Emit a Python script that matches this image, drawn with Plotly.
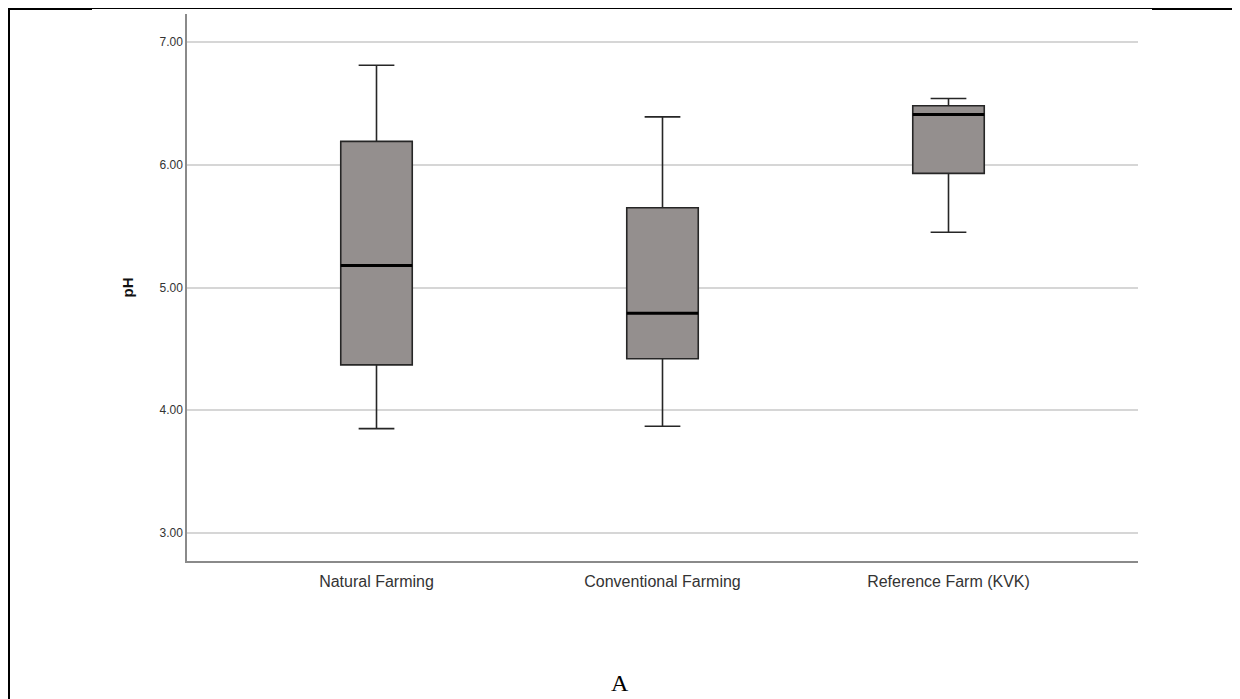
import plotly.graph_objects as go

categories = ["Natural Farming", "Conventional Farming", "Reference Farm (KVK)"]
lower_whisker = [3.85, 3.87, 5.45]
q1_values = [4.37, 4.42, 5.93]
median_values = [5.18, 4.79, 6.41]
q3_values = [6.19, 5.65, 6.48]
upper_whisker = [6.81, 6.39, 6.54]
y_ticks = [3.0, 4.0, 5.0, 6.0, 7.0]

FILL = "#948f8e"

# page body has an 8px margin, so figure coordinates = page - 8
W, H = 1232, 691
L, R, T, B = 179, 102, 6, 138
PW, PH = W - L - R, H - T - B

fig = go.Figure()
fig.add_trace(go.Box(
    x=categories, q1=q1_values, median=median_values, q3=q3_values,
    lowerfence=lower_whisker, upperfence=upper_whisker,
    fillcolor=FILL, line=dict(color="#262626", width=1.6),
    width=0.25, whiskerwidth=0.5, boxpoints=False, showlegend=False,
    hoverinfo="skip",
))
# thick median line
fig.add_trace(go.Box(
    x=categories, q1=median_values, median=median_values, q3=median_values,
    lowerfence=median_values, upperfence=median_values,
    fillcolor="rgba(0,0,0,0)", line=dict(color="#000000", width=3),
    width=0.25, whiskerwidth=0, boxpoints=False, showlegend=False,
    hoverinfo="skip",
))

def px_x(p):
    return (p - 8 - L) / PW

def px_y(p):
    return (T + PH - (p - 8)) / PH

shapes = [
    dict(type="line", xref="paper", yref="paper", x0=px_x(9), x1=px_x(9), y0=px_y(9), y1=px_y(720), line=dict(color="black", width=2)),
    dict(type="line", xref="paper", yref="paper", x0=px_x(1238), x1=px_x(1238), y0=px_y(9), y1=px_y(720), line=dict(color="black", width=2)),
    dict(type="line", xref="paper", yref="paper", x0=px_x(8), x1=px_x(92), y0=px_y(9), y1=px_y(9), line=dict(color="black", width=2)),
    dict(type="line", xref="paper", yref="paper", x0=px_x(1152), x1=px_x(1239), y0=px_y(9), y1=px_y(9), line=dict(color="black", width=2)),
    dict(type="line", xref="paper", yref="paper", x0=px_x(92), x1=px_x(1152), y0=px_y(8.5), y1=px_y(8.5), line=dict(color="black", width=1)),
]

fig.update_layout(
    width=W, height=H,
    margin=dict(l=L, r=R, t=T, b=B),
    paper_bgcolor="white", plot_bgcolor="white",
    font=dict(family="Liberation Sans, Arial, sans-serif", color="#222"),
    showlegend=False,
    shapes=shapes,
    xaxis=dict(
        range=[-0.6626, 2.6626], showgrid=False, zeroline=False,
        showline=True, linecolor="#8a8a8a", linewidth=1.5,
        ticks="", tickfont=dict(size=16, color="#333"), ticklabelstandoff=5,
    ),
    yaxis=dict(
        range=[2.772, 7.228], tickvals=y_ticks, tickformat=".2f",
        showgrid=True, gridcolor="#d6d6d6", gridwidth=1.5, zeroline=False,
        showline=True, linecolor="#8a8a8a", linewidth=1.5,
        ticks="", ticklen=0, tickfont=dict(size=12, color="#333"),
        title=dict(text="<b>pH</b>", font=dict(size=15, color="#111"), standoff=22),
    ),
    annotations=[dict(
        text="A", xref="paper", yref="paper", x=px_x(620), y=px_y(683),
        showarrow=False, xanchor="center", yanchor="middle",
        font=dict(family="Liberation Serif, Times New Roman, serif", size=24, color="black"),
    )],
)

fig.write_html("out.html")
